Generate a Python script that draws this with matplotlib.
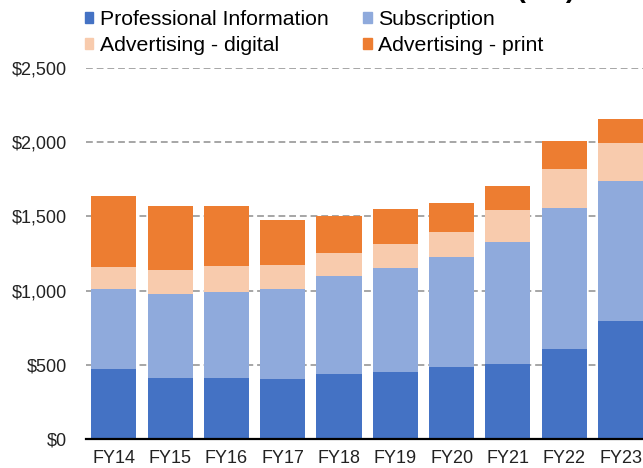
import matplotlib.pyplot as plt
import matplotlib.patches as mpatches
import numpy as np

years = ['FY14', 'FY15', 'FY16', 'FY17', 'FY18', 'FY19', 'FY20', 'FY21', 'FY22', 'FY23']
prof_info = [470, 411, 411, 404, 440, 451, 485, 505, 606, 797]
subscription = [541, 564, 582, 605, 661, 703, 744, 822, 948, 944]
adv_digital = [150, 162, 173, 163, 152, 160, 166, 218, 267, 251]
adv_print = [474, 433, 404, 306, 247, 236, 195, 158, 187, 164]

c_pi = '#4472C4'
c_sub = '#8FAADC'
c_dig = '#F8CBAD'
c_pr = '#ED7D31'

plt.rcParams['font.family'] = ['Liberation Sans', 'DejaVu Sans']

fig = plt.figure(figsize=(6.43, 4.68), dpi=100)
ax = fig.add_axes([0.134, 0.062, 0.874, 0.793])

x = np.arange(len(years))
w = 0.8
b1 = np.array(prof_info)
b2 = b1 + np.array(subscription)
b3 = b2 + np.array(adv_digital)
ax.bar(x, prof_info, w, color=c_pi, zorder=3)
ax.bar(x, subscription, w, bottom=b1, color=c_sub, zorder=3)
ax.bar(x, adv_digital, w, bottom=b2, color=c_dig, zorder=3)
ax.bar(x, adv_print, w, bottom=b3, color=c_pr, zorder=3)

ax.set_xlim(-0.49, 9.49)
ax.set_ylim(0, 2500)
ax.set_yticks([0, 500, 1000, 1500, 2000, 2500])
ax.set_yticklabels(['$0', '$500', '$1,000', '$1,500', '$2,000', '$2,500'])
ax.set_xticks(x)
ax.set_xticklabels(years)
ax.tick_params(axis='both', length=0, labelsize=13, colors='#222222')
ax.tick_params(axis='x', pad=8)
ax.tick_params(axis='y', pad=14)
ax.yaxis.grid(True, linestyle=(0, (3.5, 2)), color='#A6A6A6', linewidth=1.4, zorder=0)
for s in ['top', 'right', 'left']:
    ax.spines[s].set_visible(False)
ax.spines['bottom'].set_linewidth(1.6)
ax.spines['bottom'].set_zorder(4)

# title sits mostly above the visible area, as in the cropped original
fig.text(0.894, 1.006, 'Revenue (\\$m)', ha='right', va='baseline',
         fontsize=20, fontweight='bold')

handles = [mpatches.Patch(color=c_pi), mpatches.Patch(color=c_dig),
           mpatches.Patch(color=c_sub), mpatches.Patch(color=c_pr)]
labels = ['Professional Information', 'Advertising - digital',
          'Subscription', 'Advertising - print']
fig.legend(handles, labels, ncol=2, loc='upper left', bbox_to_anchor=(0.1315, 0.979),
           frameon=False, fontsize=15.3, handlelength=0.42, handleheight=0.42,
           handletextpad=0.3, columnspacing=1.6, labelspacing=0.32,
           borderaxespad=0, borderpad=0.0)

plt.savefig('out.png', dpi=100)
